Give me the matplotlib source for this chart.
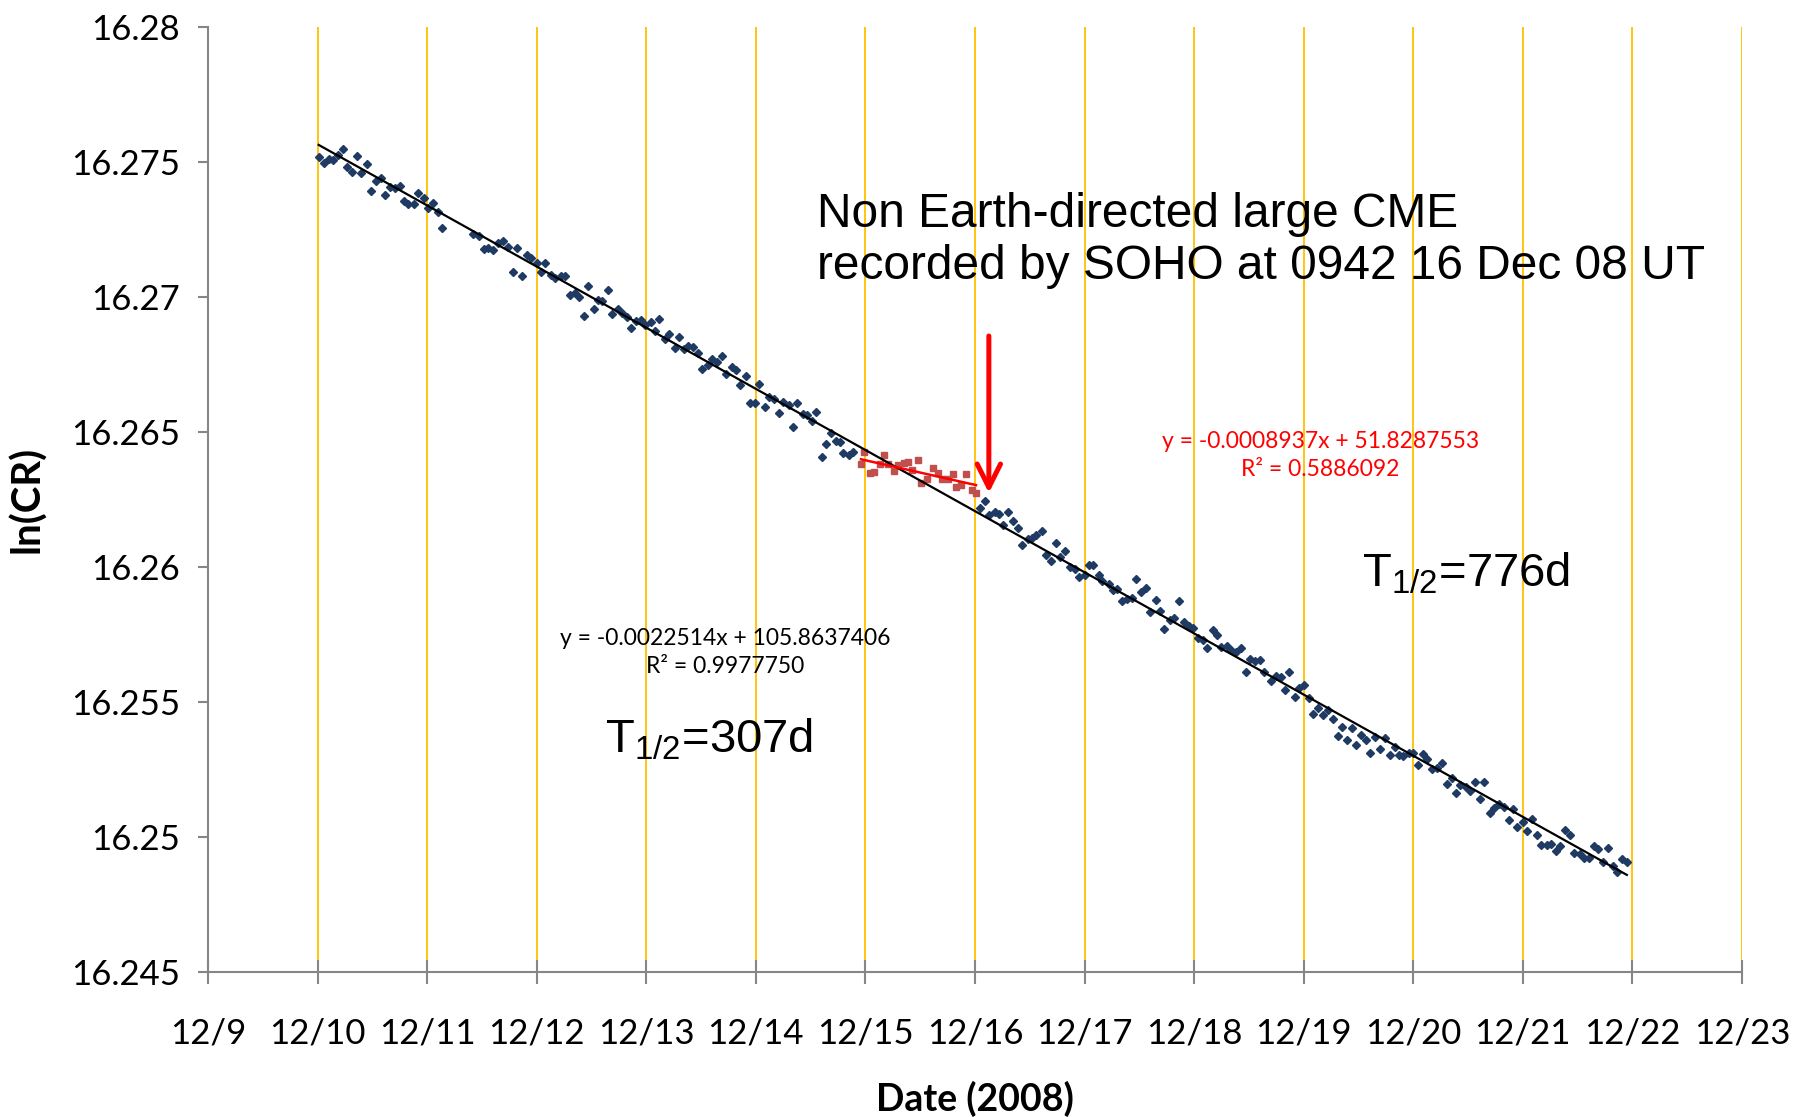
import numpy as np
import matplotlib.pyplot as plt

# hourly ln(count rate), day of December 2008
blue_day = [
    10.01, 10.06, 10.10, 10.14, 10.19, 10.23, 10.27, 10.31, 10.36, 10.40,
    10.45, 10.49, 10.53, 10.58, 10.62, 10.66, 10.71, 10.75, 10.79, 10.83,
    10.88, 10.92, 10.97, 11.01, 11.05, 11.10, 11.14, 11.42, 11.47, 11.52,
    11.56, 11.60, 11.65, 11.69, 11.74, 11.78, 11.82, 11.87, 11.91, 11.95,
    12.00, 12.04, 12.08, 12.13, 12.17, 12.22, 12.26, 12.30, 12.35, 12.39,
    12.43, 12.47, 12.52, 12.56, 12.60, 12.65, 12.69, 12.74, 12.78, 12.82,
    12.86, 12.91, 12.95, 12.99, 13.04, 13.08, 13.12, 13.17, 13.21, 13.26,
    13.30, 13.34, 13.38, 13.43, 13.47, 13.51, 13.56, 13.60, 13.65, 13.69,
    13.73, 13.78, 13.82, 13.86, 13.91, 13.95, 13.99, 14.03, 14.08, 14.12,
    14.17, 14.21, 14.25, 14.30, 14.34, 14.38, 14.43, 14.47, 14.51, 14.55,
    14.60, 14.64, 14.69, 14.73, 14.77, 14.80, 14.85, 14.89,
    16.05, 16.09, 16.13, 16.18, 16.22, 16.26, 16.30, 16.35, 16.39, 16.43,
    16.48, 16.52, 16.56, 16.61, 16.65, 16.69, 16.74, 16.78, 16.82, 16.87,
    16.91, 16.95, 17.00, 17.04, 17.08, 17.13, 17.16,
    17.22, 17.26, 17.30, 17.34, 17.39, 17.43, 17.47, 17.52, 17.56, 17.60,
    17.65, 17.69, 17.73, 17.78, 17.82, 17.86, 17.91, 17.95, 17.99, 18.04,
    18.08, 18.12, 18.17, 18.21, 18.25, 18.30, 18.34, 18.38, 18.43, 18.47,
    18.51, 18.56, 18.60, 18.64, 18.70, 18.75, 18.79, 18.83, 18.87, 18.92,
    18.96, 19.00, 19.05, 19.09, 19.13, 19.18, 19.22, 19.27, 19.31, 19.35,
    19.40, 19.44, 19.48, 19.52, 19.57,
    19.61, 19.65, 19.70, 19.74, 19.79, 19.83, 19.87, 19.91, 19.96, 20.00,
    20.04, 20.09, 20.13, 20.17, 20.22, 20.26, 20.31, 20.35, 20.39, 20.43,
    20.48, 20.52, 20.56, 20.61, 20.65, 20.70, 20.74, 20.78, 20.83, 20.87,
    20.91, 20.95, 21.00, 21.04, 21.08, 21.13, 21.17, 21.22, 21.26, 21.30,
    21.34, 21.39, 21.43, 21.47, 21.52, 21.56, 21.60, 21.65, 21.69, 21.73,
    21.78, 21.82, 21.86, 21.91, 21.95,
]
blue_ln = [
    16.27518, 16.27496, 16.27511, 16.27508, 16.27527, 16.27549, 16.27481, 16.27462, 16.27522, 16.27460,
    16.27492, 16.27394, 16.27430, 16.27442, 16.27377, 16.27408, 16.27405, 16.27411, 16.27354, 16.27345,
    16.27345, 16.27387, 16.27368, 16.27328, 16.27350, 16.27314, 16.27255, 16.27233, 16.27226, 16.27178,
    16.27181, 16.27176, 16.27201, 16.27206, 16.27187, 16.27093, 16.27180, 16.27079, 16.27155, 16.27146,
    16.27126, 16.27092, 16.27125, 16.27082, 16.27069, 16.27079, 16.27079, 16.27009, 16.27016, 16.27000,
    16.26928, 16.27041, 16.26955, 16.26988, 16.26985, 16.27025, 16.26938, 16.26954, 16.26939, 16.26926,
    16.26887, 16.26910, 16.26915, 16.26898, 16.26906, 16.26876, 16.26918, 16.26845, 16.26864, 16.26813,
    16.26853, 16.26808, 16.26819, 16.26815, 16.26794, 16.26735, 16.26747, 16.26770, 16.26758, 16.26781,
    16.26715, 16.26742, 16.26730, 16.26673, 16.26709, 16.26606, 16.26606, 16.26679, 16.26594, 16.26631,
    16.26622, 16.26571, 16.26611, 16.26600, 16.26519, 16.26606, 16.26568, 16.26564, 16.26539, 16.26575,
    16.26408, 16.26455, 16.26497, 16.26467, 16.26462, 16.26424, 16.26414, 16.26425,
    16.26217, 16.26244, 16.26192, 16.26204, 16.26198, 16.26157, 16.26204, 16.26172, 16.26144, 16.26081,
    16.26105, 16.26108, 16.26118, 16.26133, 16.26046, 16.26022, 16.26090, 16.26037, 16.26058, 16.26000,
    16.25994, 16.25964, 16.25972, 16.26006, 16.26009, 16.25969, 16.25947,
    16.25938, 16.25915, 16.25917, 16.25875, 16.25880, 16.25887, 16.25957, 16.25908, 16.25921, 16.25833,
    16.25879, 16.25838, 16.25771, 16.25805, 16.25813, 16.25875, 16.25798, 16.25782, 16.25775, 16.25736,
    16.25729, 16.25701, 16.25768, 16.25749, 16.25705, 16.25709, 16.25693, 16.25685, 16.25699, 16.25612,
    16.25658, 16.25652, 16.25654, 16.25612, 16.25576, 16.25595, 16.25591, 16.25544, 16.25613, 16.25518,
    16.25551, 16.25564, 16.25515, 16.25457, 16.25476, 16.25452, 16.25470, 16.25436, 16.25374, 16.25408,
    16.25358, 16.25405, 16.25341, 16.25379, 16.25361,
    16.25311, 16.25369, 16.25327, 16.25367, 16.25305, 16.25335, 16.25302, 16.25300, 16.25312, 16.25312,
    16.25265, 16.25306, 16.25290, 16.25253, 16.25256, 16.25273, 16.25195, 16.25219, 16.25164, 16.25191,
    16.25186, 16.25172, 16.25203, 16.25139, 16.25203, 16.25090, 16.25107, 16.25123, 16.25110, 16.25062,
    16.25102, 16.25037, 16.25056, 16.25024, 16.25068, 16.25007, 16.24970, 16.24969, 16.24974, 16.24949,
    16.24968, 16.25027, 16.25006, 16.24939, 16.24937, 16.24922, 16.24921, 16.24965, 16.24955, 16.24906,
    16.24960, 16.24891, 16.24872, 16.24919, 16.24906,
]

# readings during the CME passage (15-16 Dec)
red_day = [
    14.96, 14.99, 15.04, 15.08, 15.13, 15.17, 15.21, 15.26, 15.30, 15.35,
    15.39, 15.43, 15.48, 15.51, 15.56, 15.62, 15.66, 15.70, 15.75, 15.80,
    15.83, 15.87, 15.92, 15.97, 16.01,
]
red_ln = [
    16.26380, 16.26425, 16.26349, 16.26351, 16.26380, 16.26414, 16.26380, 16.26356, 16.26377, 16.26387,
    16.26388, 16.26358, 16.26395, 16.26311, 16.26325, 16.26366, 16.26349, 16.26327, 16.26326, 16.26344,
    16.26297, 16.26304, 16.26343, 16.26287, 16.26274,
]

day_ticks = list(range(9, 24))
day_labels = ["12/%d" % d for d in day_ticks]
ln_ticks = [16.245, 16.25, 16.255, 16.26, 16.265, 16.27, 16.275, 16.28]
ln_labels = ["16.245", "16.25", "16.255", "16.26", "16.265", "16.27", "16.275", "16.28"]

plt.rcParams['font.family'] = ['Lato', 'DejaVu Sans']
plt.rcParams['mathtext.default'] = 'regular'

fig = plt.figure(figsize=(17.93, 11.17), dpi=100)
ax = fig.add_axes([0.116, 0.1298, 0.8555, 0.846])

axis_grey = '#868686'
for d in day_ticks[1:]:
    ax.axvline(d, color='#FFC000', lw=1.3, zorder=1)

ax.plot(blue_day, blue_ln, 'D', color='#1F3B63', ms=3.8, mec='#1F3B63', zorder=3)
ax.plot(red_day, red_ln, 's', color='#C0504D', ms=5.0, zorder=4)

# least-squares trend lines
all_day = np.array(blue_day + red_day)
all_ln = np.array(blue_ln + red_ln)
k, b = np.polyfit(all_day, all_ln, 1)
xs = np.array([all_day.min(), all_day.max()])
ax.plot(xs, k * xs + b, color='black', lw=1.6, zorder=5)

kr, br = np.polyfit(red_day, red_ln, 1)
xr = np.array([min(red_day), max(red_day)])
ax.plot(xr, kr * xr + br, color='#FF0000', lw=1.8, zorder=6)

ax.set_xlim(9, 23)
ax.set_ylim(16.245, 16.28)
ax.set_xticks(day_ticks)
ax.set_xticklabels(day_labels)
ax.set_yticks(ln_ticks)
ax.set_yticklabels(ln_labels)

for side in ['top', 'right']:
    ax.spines[side].set_visible(False)
for side in ['left', 'bottom']:
    ax.spines[side].set_color(axis_grey)
    ax.spines[side].set_linewidth(1.5)
ax.tick_params(axis='y', direction='out', length=7, width=1.5, color=axis_grey,
               labelsize=25, pad=13)
ax.tick_params(axis='x', direction='inout', length=17, width=1.5, color=axis_grey,
               labelsize=25, pad=24)

ax.set_ylabel('ln(CR)', fontsize=29, fontweight='bold', labelpad=18)
ax.set_xlabel('Date (2008)', fontsize=27, fontweight='bold', labelpad=23)

ax.text(14.557, 16.27208, 'Non Earth-directed large CME\nrecorded by SOHO at 0942 16 Dec 08 UT',
        fontsize=34.5, family='Liberation Sans', ha='left', va='center', linespacing=1.2)
ax.annotate('', xy=(16.127, 16.26264), xytext=(16.127, 16.26866),
            arrowprops=dict(arrowstyle='->', color='#FF0000', lw=3.6, mutation_scale=42))

ax.text(13.718, 16.25684, 'y = -0.0022514x + 105.8637406\nR\u00b2 = 0.9977750',
        fontsize=16.5, ha='center', va='center', linespacing=1.4)
ax.text(19.155, 16.26414, 'y = -0.0008937x + 51.8287553\nR\u00b2 = 0.5886092',
        fontsize=16.5, ha='center', va='center', color='#FF0000', linespacing=1.4)

ax.text(12.623, 16.25361, 'T$_{1/2}$=307d', fontsize=34, family='Liberation Sans',
        ha='left', va='center')
ax.text(19.53, 16.25974, 'T$_{1/2}$=776d', fontsize=34, family='Liberation Sans',
        ha='left', va='center')

fig.savefig('out.png', dpi=100)
